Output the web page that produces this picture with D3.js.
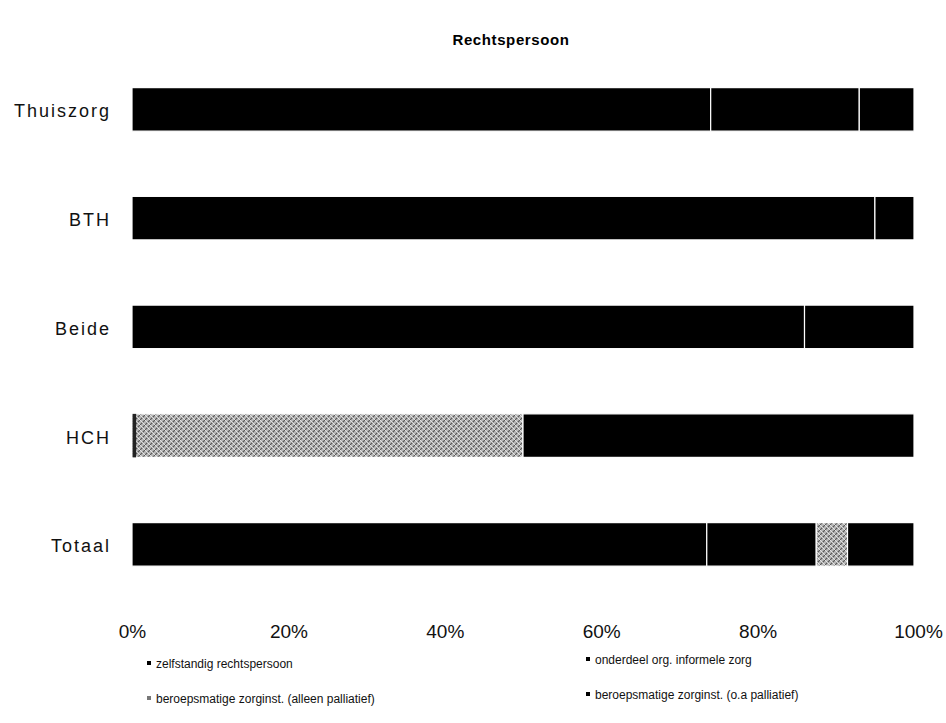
<!DOCTYPE html>
<html>
<head>
<meta charset="utf-8">
<script src="https://cdn.jsdelivr.net/npm/d3@7"></script>
<style>
  body { margin: 0; background: #fff; }
  svg { font-family: "Liberation Sans", Arial, sans-serif; }
</style>
</head>
<body>
<svg id="chart" width="946" height="723"></svg>
<script>
/* ── DATA ──────────────────────────────────────────────────────────────────── */
const categories = ['Thuiszorg', 'BTH', 'Beide', 'HCH', 'Totaal'];

const seriesNames = [
  'zelfstandig rechtspersoon',
  'onderdeel org. informele zorg',
  'beroepsmatige zorginst. (alleen palliatief)',
  'beroepsmatige zorginst. (o.a palliatief)'
];

// percentages per category
const zelfstandig   = [74,   95, 86,  0, 73.5];
const onderdeel     = [19,    5, 14,  0, 14];
const alleenPall    = [ 0,    0,  0, 50,  4];
const oaPall        = [ 7,    0,  0, 50,  8.5];

const xTicks = [0, 20, 40, 60, 80, 100];

/* ── SETUP ─────────────────────────────────────────────────────────────────── */
const svg = d3.select('#chart');

const defs = svg.append('defs');
const pat = defs.append('pattern')
  .attr('id', 'hatch')
  .attr('patternUnits', 'userSpaceOnUse')
  .attr('width', 5).attr('height', 5);
pat.append('rect').attr('width', 5).attr('height', 5).attr('fill', '#b8b8b8');
pat.append('path').attr('d', 'M0,5 L5,0 M-1,1 L1,-1 M4,6 L6,4')
  .attr('stroke', '#555').attr('stroke-width', 1.1);
pat.append('path').attr('d', 'M0,0 L5,5')
  .attr('stroke', '#f2f2f2').attr('stroke-width', 0.8);

const FILL = ['#000', '#000', 'url(#hatch)', '#000'];

const x = d3.scaleLinear().domain([0, 100]).range([132, 914]);
const y = d3.scaleBand().domain(categories)
  .range([55, 598.75]).paddingInner(0.6).paddingOuter(0.3);

const rows = categories.map((c, i) => ({
  cat: c,
  s0: zelfstandig[i], s1: onderdeel[i], s2: alleenPall[i], s3: oaPall[i]
}));
const stacked = d3.stack().keys(['s0', 's1', 's2', 's3'])(rows);

/* ── TITLE ─────────────────────────────────────────────────────────────────── */
svg.append('text')
  .attr('x', 511).attr('y', 45)
  .attr('text-anchor', 'middle')
  .attr('font-size', 15).attr('font-weight', 'bold')
  .attr('letter-spacing', 0.6)
  .text('Rechtspersoon');

/* ── BARS ──────────────────────────────────────────────────────────────────── */
svg.append('g')
  .selectAll('g')
  .data(stacked)
  .join('g')
  .attr('fill', (d, i) => FILL[i])
  .selectAll('rect')
  .data(d => d.filter(p => p[1] - p[0] > 0))
  .join('rect')
  .attr('x', d => x(d[0]))
  .attr('y', d => y(d.data.cat))
  .attr('width', d => x(d[1]) - x(d[0]))
  .attr('height', y.bandwidth())
  .attr('stroke', '#fff')
  .attr('stroke-width', 1.2);

// dark left edge on the hatched segments
svg.append('g')
  .selectAll('rect')
  .data(stacked[2].filter(p => p[1] - p[0] > 0 && p[0] === 0))
  .join('rect')
  .attr('x', d => x(d[0]) + 0.6)
  .attr('y', d => y(d.data.cat))
  .attr('width', 3.5)
  .attr('height', y.bandwidth())
  .attr('fill', '#222');

/* ── AXES ──────────────────────────────────────────────────────────────────── */
const yAxis = svg.append('g')
  .attr('transform', `translate(${x(0) - 21},0)`)
  .call(d3.axisLeft(y).tickSize(0).tickPadding(0));
yAxis.select('.domain').remove();
yAxis.selectAll('text')
  .attr('font-size', 18).attr('fill', '#111')
  .attr('font-family', '"Liberation Sans", Arial, sans-serif')
  .attr('letter-spacing', 2)
  .attr('dy', '0.45em');

const xAxis = svg.append('g')
  .attr('transform', 'translate(0,624)')
  .call(d3.axisBottom(x).tickValues(xTicks).tickFormat(d => d + '%').tickSize(0).tickPadding(0));
xAxis.select('.domain').remove();
xAxis.selectAll('text')
  .attr('font-size', 19).attr('fill', '#111')
  .attr('font-family', '"Liberation Sans", Arial, sans-serif')
  .attr('dx', (d, i) => i === 5 ? 4 : 0);

/* ── LEGEND ────────────────────────────────────────────────────────────────── */
const legendPos = [[147, 668], [586, 664], [147, 703], [586, 699]];
const legend = svg.append('g')
  .selectAll('g')
  .data(seriesNames)
  .join('g')
  .attr('transform', (d, i) => `translate(${legendPos[i][0]},${legendPos[i][1]})`);

legend.append('rect')
  .attr('x', 0).attr('y', -7)
  .attr('width', 4).attr('height', 4)
  .attr('fill', (d, i) => i === 2 ? '#777' : '#000');

legend.append('text')
  .attr('x', 9).attr('y', 0)
  .attr('font-size', 12).attr('fill', '#111')
  .text(d => d);
</script>
</body>
</html>
